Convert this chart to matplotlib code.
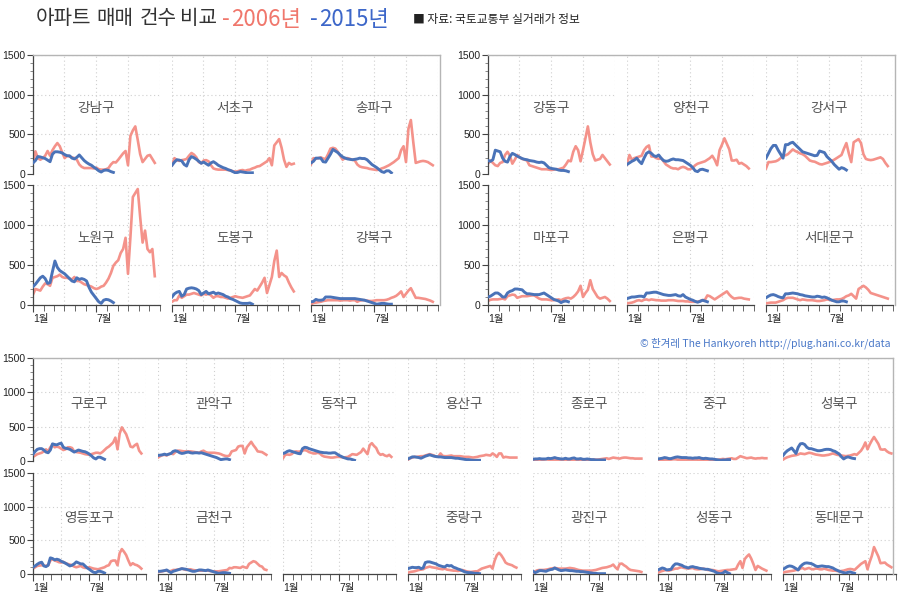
import matplotlib
matplotlib.use('Agg')
import matplotlib.pyplot as plt
from matplotlib.lines import Line2D
from matplotlib.ticker import MultipleLocator, FixedLocator

plt.rcParams['font.family'] = ['Noto Sans CJK KR', 'DejaVu Sans']

# ---------------- data (weekly apartment sales counts) ----------------
gangnam_2006 = [140,285,200,180,200,230,290,230,300,350, 390,350,270,200,230,220,210,200,180,120,
                90,75,75,75,75,70,80,60,55,55, 60,75,120,150,145,180,220,260,290,110,
                480,550,600,430,250,150,190,230,240,190,140]
gangnam_2015 = [140,170,220,215,205,195,175,155,250,280,280,275,265,245,230,230,200,190,210,240,
                205,170,145,125,110,85,65,40,25,45,50,45,30,20]
seocho_2006 = [110,200,175,165,175,180,190,230,265,245, 210,150,135,170,175,160,110,70,60,55,
               55,55,55,50,45,35,30,35,45,50, 40,50,55,70,80,95,100,120,140,160,
               200,110,360,400,440,330,180,90,140,120,130]
seocho_2015 = [110,150,180,175,165,120,100,180,220,205,185,160,135,150,130,110,140,155,135,110,
               95,80,70,55,45,30,15,20,30,25,20,15,15,15]
songpa_2006 = [120,200,195,200,210,195,190,250,320,330, 320,280,230,180,200,200,190,180,170,120,
               95,85,80,75,65,60,55,50,55,70, 80,95,110,130,150,175,200,300,350,150,
               570,680,400,140,150,160,165,160,150,130,110]
songpa_2015 = [140,160,200,200,200,155,150,200,250,310,290,270,240,215,200,190,185,180,185,190,
               200,195,195,180,150,120,100,80,55,30,20,40,40,15]
nowon_2006 = [130,200,190,180,230,270,260,240,340,350, 360,380,350,340,340,330,320,350,300,300,
              280,260,250,240,230,210,200,210,230,240, 280,330,400,490,530,560,650,700,840,390,
              850,1350,1400,1450,1100,780,930,700,660,700,360]
nowon_2015 = [230,260,300,340,360,330,270,280,420,550,470,430,410,390,360,330,300,290,340,320,
              330,320,300,220,160,120,80,40,20,60,70,65,50,30]
dobong_2006 = [40,60,60,120,90,110,130,130,140,150, 140,130,120,140,130,140,120,90,110,110,
               100,100,90,80,90,100,110,100,95,90, 100,110,120,160,200,180,230,280,340,150,
               250,350,550,680,350,400,370,350,280,220,170]
dobong_2015 = [100,140,160,170,110,130,200,210,215,210,200,180,130,150,170,140,150,160,140,150,
               140,130,110,100,80,70,55,40,25,20,20,20,25,10]
gangbuk_2006 = [10,25,30,35,40,50,55,60,60,60, 60,60,55,60,60,60,55,60,60,40,
                55,60,60,55,50,50,55,60,60,60, 60,65,75,90,100,115,140,170,100,140,
                180,210,150,90,90,85,80,75,65,55,40]
gangbuk_2015 = [40,45,70,60,60,65,100,100,100,95,90,85,80,80,80,80,80,80,80,75,
                70,65,60,50,40,30,20,10,15,20,20,15,10,10]
gangdong_2006 = [130,170,140,110,100,140,150,240,280,230, 130,180,240,210,190,180,170,110,100,90,
                 80,70,60,60,60,55,50,55,60,60, 70,80,120,170,160,280,350,300,160,300,
                 450,600,400,250,170,180,190,240,200,160,120]
gangdong_2015 = [170,160,180,300,290,280,200,160,150,220,260,245,225,210,195,185,180,170,165,160,
                 150,145,150,140,110,80,70,65,60,50,45,45,40,30]
yangcheon_2006 = [120,240,180,200,210,220,230,300,340,360, 220,220,200,190,200,160,120,100,80,70,
                  70,60,80,90,80,60,60,80,110,130, 140,150,160,180,200,230,180,110,300,370,
                  450,380,310,170,170,180,130,140,120,100,70]
yangcheon_2015 = [120,140,160,175,200,160,130,200,260,280,260,230,220,240,200,170,160,165,180,190,
                  180,180,175,170,150,130,110,80,40,30,55,60,50,40]
gangseo_2006 = [70,150,150,155,160,175,200,240,235,250, 280,310,290,275,260,250,230,200,170,160,
                155,140,125,120,130,140,150,165,180,200, 220,240,320,390,260,150,400,420,440,390,
                250,190,180,175,180,190,200,210,190,140,100]
gangseo_2015 = [200,260,320,360,360,300,250,200,370,370,390,400,370,340,310,280,270,260,250,240,
                230,235,290,280,270,220,190,160,120,90,60,80,70,50]
mapo_2006 = [50,65,70,70,70,75,80,70,110,120, 130,125,90,100,110,110,110,115,120,120,
             100,80,70,70,70,65,60,60,65,70, 60,75,85,90,80,100,130,170,240,100,
             150,190,310,200,150,100,80,90,100,80,50]
mapo_2015 = [100,110,130,150,150,130,100,100,150,170,180,200,200,195,190,160,140,140,135,130,
             130,130,140,150,130,110,90,70,60,50,30,45,50,40]
eunpyeong_2006 = [20,25,30,40,55,60,50,65,70,60, 70,65,60,60,55,55,55,60,60,60,
                  55,50,50,50,45,45,40,40,40,40, 50,60,65,120,110,90,70,90,110,130,
                  150,170,130,100,80,85,90,90,80,75,70]
eunpyeong_2015 = [80,90,100,100,105,110,110,100,150,150,155,160,160,150,140,130,125,120,120,125,
                  130,115,110,130,100,85,70,60,45,35,45,60,50,40]
seodaemun_2006 = [20,25,30,30,30,40,50,60,80,90, 90,90,80,70,60,70,65,60,60,60,
                  55,50,50,55,60,70,65,60,65,70, 70,75,90,110,120,140,110,80,200,220,
                  240,220,190,150,140,130,120,110,100,90,80]
seodaemun_2015 = [90,110,125,130,120,105,95,90,140,140,145,150,145,140,130,125,115,110,105,100,
                  100,110,105,95,100,90,75,60,50,40,40,50,50,40]
guro_2006 = [60,80,100,110,120,140,170,140,200,240, 200,210,200,180,160,170,200,200,190,140,
             130,125,120,110,100,95,90,100,110,120, 120,110,130,160,190,210,240,270,340,170,
             400,490,440,390,300,210,200,230,250,150,110]
guro_2015 = [100,140,170,180,180,160,130,120,160,250,240,235,250,260,200,185,180,170,150,130,
             145,160,150,140,135,120,100,75,45,30,55,55,40,25]
gwanak_2006 = [50,70,85,90,80,100,110,100,130,150, 150,145,140,140,140,140,135,130,125,120,
               140,150,130,120,120,120,120,115,110,100, 85,75,70,80,140,150,160,210,220,220,
               110,200,240,280,230,190,140,135,130,110,90]
gwanak_2015 = [80,85,90,100,90,100,110,140,150,140,120,110,115,125,130,120,115,120,120,115,
               120,110,100,90,80,70,60,50,35,20,25,30,30,20]
dongjak_2006 = [40,90,95,90,100,130,140,135,140,150, 160,150,130,120,110,110,120,110,80,65,
                60,55,50,50,55,60,60,55,50,55, 60,80,100,95,90,110,130,180,140,100,
                230,260,220,190,120,90,100,80,70,90,60]
dongjak_2015 = [110,120,140,150,140,130,120,110,105,180,200,195,180,170,160,150,140,130,125,120,
                120,115,115,120,120,100,80,65,50,40,30,30,20,10]
yongsan_2006 = [20,40,50,60,60,65,70,70,80,90, 100,90,80,60,65,110,75,70,70,75,
                80,70,70,70,70,65,60,60,60,55, 50,55,60,70,75,80,90,85,80,110,
                90,60,110,110,50,60,55,50,50,50,50]
yongsan_2015 = [30,45,60,60,55,50,40,55,70,80,90,80,70,65,60,60,55,50,50,50,
                50,45,40,40,35,30,25,20,20,15,10,10,10,10]
jongno_2006 = [10,15,20,20,20,20,25,20,20,20, 20,20,20,20,20,20,20,15,15,15,
               15,15,15,15,15,15,15,20,20,20, 20,25,30,35,40,30,40,50,45,40,
               35,45,50,50,45,40,40,35,35,35,35]
jongno_2015 = [25,30,30,35,30,30,30,40,35,40,50,40,35,30,30,40,30,30,40,45,
               30,30,35,25,25,30,25,20,20,15,15,15,15,15]
junggu_2006 = [10,15,15,20,20,20,20,25,25,20, 20,20,20,20,20,20,20,20,20,15,
               15,15,15,15,15,15,15,15,20,25, 30,25,30,35,40,30,30,50,70,60,
               50,40,45,50,40,35,40,40,45,40,40]
junggu_2015 = [30,35,40,50,45,35,35,45,55,60,55,50,50,50,45,45,40,45,45,50,
               40,35,40,35,30,30,25,20,15,10,15,15,20,20]
seongbuk_2006 = [20,40,55,65,75,80,85,95,110,105, 100,110,120,115,105,95,90,85,80,80,
                 85,90,100,110,100,90,85,80,75,70, 75,80,90,100,90,120,150,200,270,170,
                 240,300,350,300,250,170,165,170,140,120,110]
seongbuk_2015 = [80,120,150,170,190,150,110,200,250,255,240,200,180,180,170,160,150,150,155,165,
                 170,170,165,150,140,120,100,60,30,50,60,50,40,35]
yeongdeungpo_2006 = [80,100,120,125,130,125,120,130,200,220, 200,190,175,170,180,160,150,140,130,110,
                     100,110,120,100,90,95,100,90,80,75, 70,80,90,100,120,130,190,200,200,130,
                     310,370,330,280,200,130,160,140,130,110,80]
yeongdeungpo_2015 = [100,120,145,165,175,120,110,130,240,230,210,220,210,190,175,160,140,120,130,150,
                     180,165,150,150,120,90,70,45,25,20,40,40,30,15]
geumcheon_2006 = [30,35,40,50,50,40,45,60,60,65, 70,80,70,60,65,70,60,55,50,50,
                  50,50,50,50,45,40,40,40,40,45, 50,55,60,90,85,100,100,95,90,110,
                  100,90,150,170,190,180,150,120,110,70,60]
geumcheon_2015 = [40,40,45,50,60,40,20,40,50,60,70,80,75,70,60,50,40,40,50,60,
                  60,55,50,60,50,40,30,20,10,15,20,20,15,10]
jungnang_2006 = [20,30,35,40,50,60,65,70,90,100, 110,100,95,90,80,75,70,80,65,60,
                 55,50,50,45,50,60,50,40,35,30, 35,40,40,60,80,90,100,110,120,80,
                 200,280,315,280,230,170,150,140,130,110,95]
jungnang_2015 = [80,90,100,95,95,100,80,90,170,180,180,170,160,150,130,120,110,105,130,120,
                 125,100,90,75,65,50,35,25,20,20,15,10,10,5]
gwangjin_2006 = [20,40,55,60,60,60,65,70,80,85, 90,85,80,80,80,80,85,90,85,80,
                 70,60,55,50,50,50,50,50,55,60, 70,80,90,95,100,110,120,140,100,70,
                 150,155,130,110,80,60,55,50,45,40,30]
gwangjin_2015 = [40,20,35,50,50,45,40,55,65,70,90,75,60,50,55,60,55,50,50,45,
                 40,40,35,35,30,25,20,15,10,10,5,5,5,5]
seongdong_2006 = [20,35,45,55,60,50,60,70,80,80, 95,100,90,85,80,85,90,75,70,70,
                  75,80,70,60,60,60,55,45,40,45, 50,55,60,60,65,70,75,140,190,90,
                  220,260,290,230,150,60,120,100,80,65,50]
seongdong_2015 = [60,75,90,80,60,65,70,120,150,150,140,130,110,100,90,105,110,100,95,85,
                  80,75,70,70,60,50,40,20,10,5,15,40,20,5]
dongdaemun_2006 = [20,30,35,40,45,50,60,60,80,90, 70,80,90,75,70,80,80,70,70,80,
                   70,60,55,50,50,45,40,45,50,60, 70,75,70,60,90,120,150,170,190,70,
                   180,270,400,330,260,160,165,170,140,120,100]
dongdaemun_2015 = [70,90,110,120,115,100,80,60,110,140,160,165,160,155,140,120,110,115,120,115,
                   110,110,100,90,70,55,40,30,20,15,25,30,20,10]

# panel names and order
group_a = [['강남구', '서초구', '송파구'], ['노원구', '도봉구', '강북구']]
group_b = [['강동구', '양천구', '강서구'], ['마포구', '은평구', '서대문구']]
group_c = [['구로구', '관악구', '동작구', '용산구', '종로구', '중구', '성북구'],
           ['영등포구', '금천구', None, '중랑구', '광진구', '성동구', '동대문구']]

series = {
    '강남구': (gangnam_2006, gangnam_2015), '서초구': (seocho_2006, seocho_2015),
    '송파구': (songpa_2006, songpa_2015), '노원구': (nowon_2006, nowon_2015),
    '도봉구': (dobong_2006, dobong_2015), '강북구': (gangbuk_2006, gangbuk_2015),
    '강동구': (gangdong_2006, gangdong_2015), '양천구': (yangcheon_2006, yangcheon_2015),
    '강서구': (gangseo_2006, gangseo_2015), '마포구': (mapo_2006, mapo_2015),
    '은평구': (eunpyeong_2006, eunpyeong_2015), '서대문구': (seodaemun_2006, seodaemun_2015),
    '구로구': (guro_2006, guro_2015), '관악구': (gwanak_2006, gwanak_2015),
    '동작구': (dongjak_2006, dongjak_2015), '용산구': (yongsan_2006, yongsan_2015),
    '종로구': (jongno_2006, jongno_2015), '중구': (junggu_2006, junggu_2015),
    '성북구': (seongbuk_2006, seongbuk_2015), '영등포구': (yeongdeungpo_2006, yeongdeungpo_2015),
    '금천구': (geumcheon_2006, geumcheon_2015), '중랑구': (jungnang_2006, jungnang_2015),
    '광진구': (gwangjin_2006, gwangjin_2015), '성동구': (seongdong_2006, seongdong_2015),
    '동대문구': (dongdaemun_2006, dongdaemun_2015),
}

month_starts = [0, 31, 59, 90, 120, 151, 181, 212, 243, 273, 304, 334, 365]
month_labels = ['1월', '7월']
y_major = [0, 500, 1000, 1500]
title_words = ['아파트', '매매', '건수', '비교']

# ---------------- drawing ----------------
W, H = 900, 610
fig = plt.figure(figsize=(9, 6.1), dpi=100)
fig.patch.set_facecolor('white')

RED = '#f4928a'
BLUE = '#4a73b8'
GRID = '#cfcfcf'
AX = '#444444'
BORDER = '#b5b5b5'
TICKFONT = ['Liberation Sans', 'Noto Sans CJK KR']


def fx(x):
    return x / W


def fy(y):
    return 1 - y / H


def panel(name, x, ytop, w, h, left, bottom):
    ax = fig.add_axes([fx(x), fy(ytop + h), w / W, h / H])
    ax.set_xlim(0, 365)
    ax.set_ylim(0, 1500)
    for s in ax.spines.values():
        s.set_visible(False)
    for v in y_major:
        ax.axhline(v, color=GRID, lw=0.8, ls=(0, (1, 2.5)), zorder=0)
    for d in [0, 90, 181, 273, 365]:
        ax.axvline(d, color=GRID, lw=0.8, ls=(0, (1, 2.5)), zorder=0)
    if left:
        ax.spines['left'].set_visible(True)
        ax.spines['left'].set_color(AX)
        ax.spines['left'].set_linewidth(0.9)
        ax.yaxis.set_major_locator(FixedLocator(y_major))
        ax.yaxis.set_minor_locator(MultipleLocator(100))
        ax.tick_params(axis='y', which='major', length=4, width=0.8, color=AX,
                       labelsize=7.5, labelcolor='#222', pad=1.5)
        ax.tick_params(axis='y', which='minor', length=2.5, width=0.6, color='#777')
        for lb in ax.get_yticklabels():
            lb.set_family(TICKFONT)
    else:
        ax.set_yticks([])
    if bottom:
        ax.spines['bottom'].set_visible(True)
        ax.spines['bottom'].set_color(AX)
        ax.spines['bottom'].set_linewidth(0.9)
        ax.set_xticks([0, 181])
        ax.set_xticklabels(month_labels, ha='left')
        ax.xaxis.set_minor_locator(FixedLocator(month_starts))
        ax.tick_params(axis='x', which='major', length=5, width=0.8, color=AX,
                       labelsize=7.5, labelcolor='#222', pad=1.5)
        ax.tick_params(axis='x', which='minor', length=4, width=0.7, color='#666')
        for lb in ax.get_xticklabels():
            lb.set_family(TICKFONT)
    else:
        ax.set_xticks([])
    if name is None:
        return ax
    s06, s15 = series[name]
    ax.plot([7 * i for i in range(len(s06))], s06, color=RED, lw=1.9, zorder=2,
            solid_joinstyle='round')
    ax.plot([7 * i for i in range(len(s15))], s15, color=BLUE, lw=2.1, zorder=3,
            solid_joinstyle='round')
    ax.text(0.5, 0.555, name, transform=ax.transAxes, ha='center', va='center',
            fontsize=9.8, color='#555555')
    return ax


def group(names, x0, w, gap, rows):
    for r, row in enumerate(names):
        ytop, h = rows[r]
        for c, nm in enumerate(row):
            panel(nm, x0 + c * (w + gap), ytop, w, h, c == 0, r == len(names) - 1)


group(group_a, 33, 127, 12, [(55, 119), (185, 120)])
group(group_b, 488, 127, 12, [(55, 119), (185, 120)])
group(group_c, 33, 113, 12, [(358, 103), (473, 101)])


def fline(x1, y1, x2, y2):
    fig.add_artist(Line2D([fx(x1), fx(x2)], [fy(y1), fy(y2)], color=BORDER, lw=1,
                          transform=fig.transFigure))


fline(33, 55, 440, 55)
fline(440, 55, 440, 305)
fline(488, 55, 895, 55)
fline(895, 55, 895, 305)
fline(33, 358, 893, 358)
fline(893, 358, 893, 574)

# ---------------- titles ----------------
for word, cx in zip(title_words, [63, 115, 158, 198]):
    fig.text(fx(cx), fy(19), word, fontsize=14.5, color='#333333', ha='center', va='center')
fig.text(fx(222), fy(19), '-', fontsize=16, color='#f0776c', ha='left', va='center')
fig.text(fx(231), fy(19), '2006년', fontsize=16, color='#f0776c', ha='left', va='center')
fig.text(fx(310), fy(19), '-', fontsize=16, color='#3d67c9', ha='left', va='center')
fig.text(fx(319), fy(19), '2015년', fontsize=16, color='#3d67c9', ha='left', va='center')
fig.text(fx(413), fy(19), '■ 자료: 국토교통부 실거래가 정보', fontsize=8.5, color='#222222',
         ha='left', va='center')
fig.text(fx(891), fy(343), '© 한겨레 The Hankyoreh http://plug.hani.co.kr/data',
         fontsize=7.5, color='#4a78c8', ha='right', va='center')

fig.savefig('out.png', dpi=100, facecolor='white')
